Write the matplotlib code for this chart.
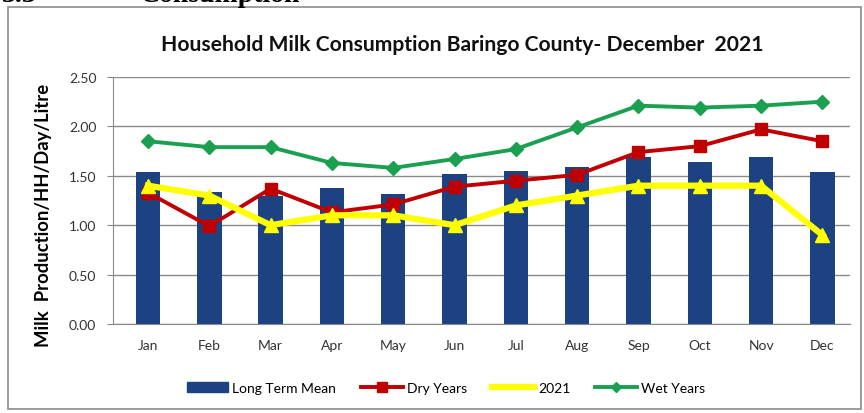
import matplotlib
matplotlib.use("Agg")
import matplotlib.pyplot as plt
from matplotlib.patches import Rectangle
from matplotlib.lines import Line2D
import numpy as np

months = ["Jan", "Feb", "Mar", "Apr", "May", "Jun", "Jul", "Aug", "Sep", "Oct", "Nov", "Dec"]
long_term_mean = [1.54, 1.34, 1.30, 1.38, 1.32, 1.52, 1.55, 1.59, 1.69, 1.64, 1.69, 1.54]
dry_years = [1.33, 0.99, 1.37, 1.13, 1.21, 1.39, 1.45, 1.51, 1.74, 1.80, 1.97, 1.85]
y2021 = [1.40, 1.30, 1.00, 1.10, 1.10, 1.00, 1.20, 1.30, 1.40, 1.40, 1.40, 0.90]
wet_years = [1.85, 1.79, 1.79, 1.63, 1.58, 1.67, 1.77, 1.99, 2.21, 2.19, 2.21, 2.25]
yticks = [0.0, 0.5, 1.0, 1.5, 2.0, 2.5]

plt.rcParams['font.family'] = ['Lato', 'DejaVu Sans']

W, H = 864, 414
fig = plt.figure(figsize=(W / 100, H / 100), dpi=100)

# outer chart frame
fig.patches.append(Rectangle((8 / W, 4 / H), 853 / W, 402 / H, transform=fig.transFigure,
                             fill=False, edgecolor="#8c8c8c", linewidth=1.2))
# heading from the page above, clipped at the top edge as in the reference
fig.text(140 / W, 1 + 17 / H, "Consumption", fontsize=20, fontweight="bold",
         family="Liberation Serif", va="top", ha="left", color="black")
fig.text(2 / W, 1 + 17 / H, "3.3", fontsize=20, fontweight="bold",
         family="Liberation Serif", va="top", ha="left", color="black")

ax = fig.add_axes([113 / W, 1 - 325 / H, (850 - 113) / W, (325 - 78) / H])
x = np.arange(len(months))

ax.bar(x, long_term_mean, width=0.40, color="#1d4282", zorder=2, label="Long Term Mean")
ax.plot(x, dry_years, color="#c00000", lw=2.8, marker="s", ms=9, zorder=3, label="Dry Years")
ax.plot(x, y2021, color="#ffff00", lw=4.5, marker="^", ms=10, zorder=4, label="2021")
ax.plot(x, wet_years, color="#1aa050", lw=2.8, marker="D", ms=7, zorder=3, label="Wet Years")

ax.set_ylim(0, 2.5)
ax.set_xlim(-0.57, 11.45)
ax.set_yticks(yticks)
ax.set_yticklabels([f"{v:.2f}" for v in yticks], fontsize=10, color="#333333")
ax.set_xticks(x)
ax.set_xticklabels(months, fontsize=10, color="#333333")
ax.tick_params(axis="y", length=4, color="#888888", pad=8)
ax.tick_params(axis="x", length=0, pad=11)
ax.yaxis.grid(True, color="#8a8a8a", linewidth=1.0, zorder=0)
ax.set_axisbelow(True)
for s in ["top", "right"]:
    ax.spines[s].set_visible(False)
ax.spines["left"].set_color("#8a8a8a")
ax.spines["bottom"].set_color("#8a8a8a")

ax.set_ylabel("Milk  Production/HH/Day/Litre", fontsize=13.3, fontweight="bold")
ax.yaxis.set_label_coords(-0.083, 0.445)

fig.text(462 / W, 1 - 45 / H, "Household Milk Consumption Baringo County- December  2021",
         ha="center", va="center", fontsize=15.2, fontweight="bold", color="#111111")

handles = [
    Rectangle((0, 0), 1, 1, color="#1d4282"),
    Line2D([], [], color="#c00000", lw=2.8, marker="s", ms=7),
    Line2D([], [], color="#ffff00", lw=4.5),
    Line2D([], [], color="#1aa050", lw=2.8, marker="D", ms=5),
]
labels = ["Long Term Mean", "Dry Years", "2021", "Wet Years"]
fig.legend(handles, labels, loc="center", bbox_to_anchor=(446 / W, 1 - 389 / H), ncol=4,
           frameon=False, fontsize=10, handlelength=3.0, columnspacing=1.8, handletextpad=0.3)

fig.savefig("out.png", dpi=100)
